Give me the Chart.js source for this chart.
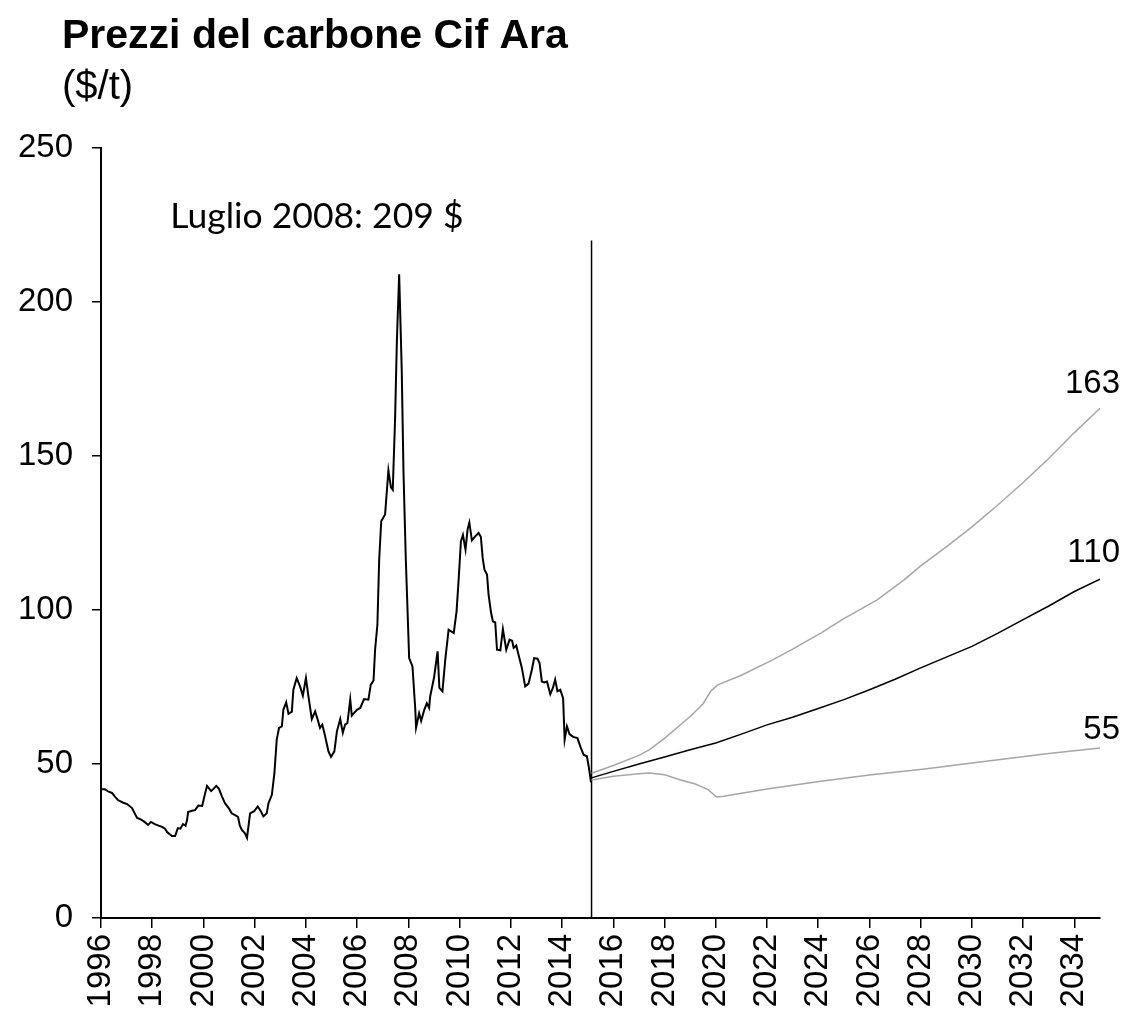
<!DOCTYPE html>
<html lang="it">
<head>
<meta charset="utf-8">
<title>Prezzi del carbone Cif Ara</title>
<script src="https://cdn.jsdelivr.net/npm/chart.js@4.4.1/dist/chart.umd.min.js"></script>
<style>
  body { margin: 0; background: #fff; }
  #box { width: 1128px; height: 1022px; }
</style>
</head>
<body>
<div id="box"><canvas id="grafico" width="1128" height="1022"></canvas></div>
<script>
// Testi
const titolo = 'Prezzi del carbone Cif Ara';
const sottotitolo = '($/t)';
const nota = 'Luglio 2008: 209 $';

// Tick dell'asse x (anni)
const anniTick = [1996, 1998, 2000, 2002, 2004, 2006, 2008, 2010, 2012, 2014, 2016,
  2018, 2020, 2022, 2024, 2026, 2028, 2030, 2032, 2034];

// Serie storica (anno decimale, $/t)
const storicoAnni = [
  1996.00, 1996.15, 1996.30, 1996.43, 1996.55, 1996.66, 1996.85, 1997.02, 1997.21, 1997.41,
  1997.55, 1997.70, 1997.84, 1997.95, 1998.10, 1998.25, 1998.38, 1998.50, 1998.58, 1998.77,
  1998.89, 1999.00, 1999.10, 1999.20, 1999.30, 1999.36, 1999.40, 1999.55, 1999.67, 1999.80,
  1999.95, 2000.05, 2000.14, 2000.30, 2000.40, 2000.50, 2000.60, 2000.72, 2000.84, 2001.00,
  2001.10, 2001.25, 2001.35, 2001.42, 2001.50, 2001.62, 2001.70, 2001.76, 2001.82, 2001.98,
  2002.12, 2002.25, 2002.34, 2002.47, 2002.54, 2002.67, 2002.77, 2002.86, 2002.95, 2003.06,
  2003.12, 2003.23, 2003.32, 2003.45, 2003.51, 2003.64, 2003.77, 2003.88, 2004.00, 2004.10,
  2004.23, 2004.36, 2004.46, 2004.55, 2004.64, 2004.75, 2004.88, 2004.98, 2005.11, 2005.21,
  2005.34, 2005.44, 2005.53, 2005.62, 2005.73, 2005.79, 2005.99, 2006.12, 2006.27, 2006.44,
  2006.53, 2006.64, 2006.70, 2006.79, 2006.86, 2006.94, 2007.09, 2007.22, 2007.32, 2007.39,
  2007.48, 2007.55, 2007.64, 2007.74, 2007.81, 2007.90, 2008.03, 2008.16, 2008.27, 2008.30,
  2008.42, 2008.50, 2008.62, 2008.72, 2008.81, 2008.85, 2009.00, 2009.14, 2009.21, 2009.33,
  2009.44, 2009.57, 2009.77, 2009.88, 2009.97, 2010.05, 2010.13, 2010.23, 2010.31, 2010.38,
  2010.48, 2010.61, 2010.74, 2010.83, 2010.90, 2010.97, 2011.07, 2011.13, 2011.23, 2011.30,
  2011.39, 2011.46, 2011.59, 2011.69, 2011.82, 2011.95, 2012.05, 2012.11, 2012.21, 2012.30,
  2012.43, 2012.56, 2012.69, 2012.82, 2012.91, 2013.04, 2013.12, 2013.21, 2013.30, 2013.41,
  2013.54, 2013.64, 2013.73, 2013.82, 2013.93, 2014.04, 2014.10, 2014.19, 2014.29, 2014.43,
  2014.60, 2014.71, 2014.84, 2014.97, 2015.04, 2015.13
];
const storicoValori = [
  41.8, 41.8, 41.0, 40.6, 39.3, 38.3, 37.5, 37.0, 35.7, 32.5,
  32.0, 31.2, 30.2, 31.2, 30.5, 30.0, 29.6, 29.0, 27.9, 26.6,
  26.6, 29.2, 29.0, 30.5, 30.0, 31.8, 34.4, 34.8, 35.0, 36.5,
  36.4, 40.0, 42.9, 41.2, 42.0, 42.9, 42.0, 39.5, 37.3, 35.5,
  34.0, 33.3, 32.8, 30.0, 28.6, 27.5, 26.0, 30.0, 34.0, 34.7,
  36.2, 34.5, 33.0, 34.0, 37.3, 40.0, 47.0, 57.9, 61.7, 62.2,
  67.6, 70.0, 66.3, 67.0, 74.1, 77.9, 75.2, 72.2, 77.9, 71.9,
  64.6, 67.1, 64.4, 61.7, 62.8, 59.0, 54.1, 52.3, 54.1, 60.6,
  64.6, 60.1, 62.8, 63.3, 70.9, 65.7, 67.6, 68.2, 71.1, 70.9,
  75.7, 77.1, 87.1, 95.2, 116.3, 128.8, 131.0, 145.3, 139.8, 139.0,
  161.8, 187.2, 209.0, 178.0, 144.4, 116.3, 84.4, 81.7, 67.6, 61.8,
  66.5, 64.0, 67.6, 69.7, 68.2, 71.9, 78.0, 86.6, 74.7, 73.6,
  83.9, 93.6, 92.5, 99.5, 110.9, 122.3, 124.4, 119.6, 126.1, 128.4,
  122.6, 123.9, 125.0, 123.7, 116.9, 113.1, 111.5, 105.0, 99.0, 96.3,
  96.0, 87.1, 86.9, 93.8, 87.1, 90.4, 90.0, 87.7, 88.5, 85.5,
  81.2, 75.2, 76.1, 80.6, 84.4, 84.2, 82.8, 76.8, 76.5, 76.8,
  72.7, 74.7, 77.4, 73.6, 74.1, 71.4, 57.9, 62.2, 59.7, 58.8,
  58.4, 55.7, 53.0, 52.5, 49.2, 44.0
];

// Previsioni: scenario centrale
const centraleAnni = [2015.15, 2016, 2017, 2018, 2019, 2020, 2021, 2022, 2023, 2024, 2025,
  2026, 2027, 2028, 2029, 2030, 2031, 2032, 2033, 2034, 2035];
const centraleValori = [45.5, 47.6, 50.0, 52.3, 54.6, 56.8, 59.7, 62.7, 65.2, 68.0, 70.9,
  74.1, 77.5, 81.2, 84.7, 88.2, 92.4, 96.9, 101.3, 106.0, 110.0];

// Previsioni: scenario alto
const altoAnni = [2015.15, 2016, 2017, 2017.4, 2018, 2019, 2019.5, 2019.8, 2020.08, 2021,
  2022.24, 2023, 2024.1, 2025, 2026.3, 2027.35, 2028, 2029, 2030, 2031, 2032, 2033, 2034, 2035];
const altoValori = [47.0, 49.5, 52.8, 54.6, 58.3, 65.4, 69.5, 73.6, 75.7, 78.8,
  83.9, 87.3, 92.5, 97.2, 103.3, 109.8, 114.3, 120.5, 127.0, 134.0, 141.4, 149.2, 157.6, 165.5];

// Previsioni: scenario basso
const bassoAnni = [2015.15, 2016, 2017, 2017.4, 2018, 2018.6, 2019.2, 2019.7, 2020.03, 2020.3,
  2022, 2024.1, 2026, 2028.15, 2030, 2031.5, 2033, 2035];
const bassoValori = [44.8, 46.0, 46.8, 47.1, 46.5, 44.9, 43.5, 41.7, 39.3, 39.5,
  41.9, 44.4, 46.4, 48.4, 50.3, 51.9, 53.4, 55.2];

// Linea verticale di separazione storico / previsioni
const separatoreAnni = [2015.15, 2015.15];
const separatoreValori = [0, 220];

// Etichette finali delle previsioni: testo, posizione (anno, valore)
const etichetteTesto = ['163', '110', '55'];
const etichetteAnno = [2035.78, 2035.78, 2035.78];
const etichetteValore = [170.3, 115.7, 58.0];
const notaPos = [1998.7, 224.1];

function punti(xs, ys) {
  return xs.map((x, i) => ({ x: x, y: ys[i] }));
}

const grigio = '#a6a6a6';
const font = '"Liberation Sans", Arial, sans-serif';

// Plugin per titolo, nota e etichette
const testiPlugin = {
  id: 'testi',
  afterDraw(chart) {
    const ctx = chart.ctx;
    const x = chart.scales.x;
    const y = chart.scales.y;
    ctx.save();
    ctx.fillStyle = '#000';
    ctx.textBaseline = 'alphabetic';
    ctx.textAlign = 'left';
    ctx.font = 'bold 41px ' + font;
    ctx.fillText(titolo, 62, 48);
    ctx.font = '40px ' + font;
    ctx.fillText(sottotitolo, 62, 99);

    ctx.font = '35.5px Lato, sans-serif';
    ctx.fillText(nota, x.getPixelForValue(notaPos[0]), y.getPixelForValue(notaPos[1]));

    ctx.textAlign = 'right';
    ctx.font = '33px ' + font;
    etichetteTesto.forEach((t, i) => {
      ctx.fillText(t, x.getPixelForValue(etichetteAnno[i]), y.getPixelForValue(etichetteValore[i]));
    });
    ctx.restore();
  }
};

const ctx = document.getElementById('grafico').getContext('2d');
const grafico = new Chart(ctx, {
  type: 'line',
  data: {
    datasets: [
      { label: 'Basso', data: punti(bassoAnni, bassoValori), borderColor: grigio, borderWidth: 1.5 },
      { label: 'Alto', data: punti(altoAnni, altoValori), borderColor: grigio, borderWidth: 1.5 },
      { label: 'Centrale', data: punti(centraleAnni, centraleValori), borderColor: '#000', borderWidth: 1.5 },
      { label: 'Separatore', data: punti(separatoreAnni, separatoreValori), borderColor: '#000', borderWidth: 1.5 },
      { label: 'Storico', data: punti(storicoAnni, storicoValori), borderColor: '#000', borderWidth: 2 }
    ]
  },
  options: {
    responsive: false,
    animation: false,
    layout: { padding: { top: 148, right: 28, left: 0, bottom: 0 } },
    elements: { point: { radius: 0 }, line: { tension: 0, fill: false } },
    plugins: { legend: { display: false }, tooltip: { enabled: false } },
    scales: {
      x: {
        type: 'linear',
        min: 1996,
        max: 2035,
        afterBuildTicks: (s) => { s.ticks = anniTick.map(v => ({ value: v })); },
        afterFit: (s) => { s.height = 104; },
        grid: { drawOnChartArea: false, drawTicks: true, tickLength: 10, color: '#000', lineWidth: 1.5 },
        border: { display: true, color: '#000', width: 2 },
        ticks: {
          minRotation: 90,
          maxRotation: 90,
          autoSkip: false,
          padding: 6,
          color: '#000',
          font: { family: font, size: 33 },
          callback: (v) => String(v)
        }
      },
      y: {
        min: 0,
        max: 250,
        afterFit: (s) => { s.width = 101; },
        grid: { drawOnChartArea: false, drawTicks: true, tickLength: 9, color: '#000', lineWidth: 1.5 },
        border: { display: true, color: '#000', width: 2 },
        ticks: {
          stepSize: 50,
          padding: 19,
          color: '#000',
          font: { family: font, size: 33 }
        }
      }
    }
  },
  plugins: [testiPlugin]
});
</script>
</body>
</html>
